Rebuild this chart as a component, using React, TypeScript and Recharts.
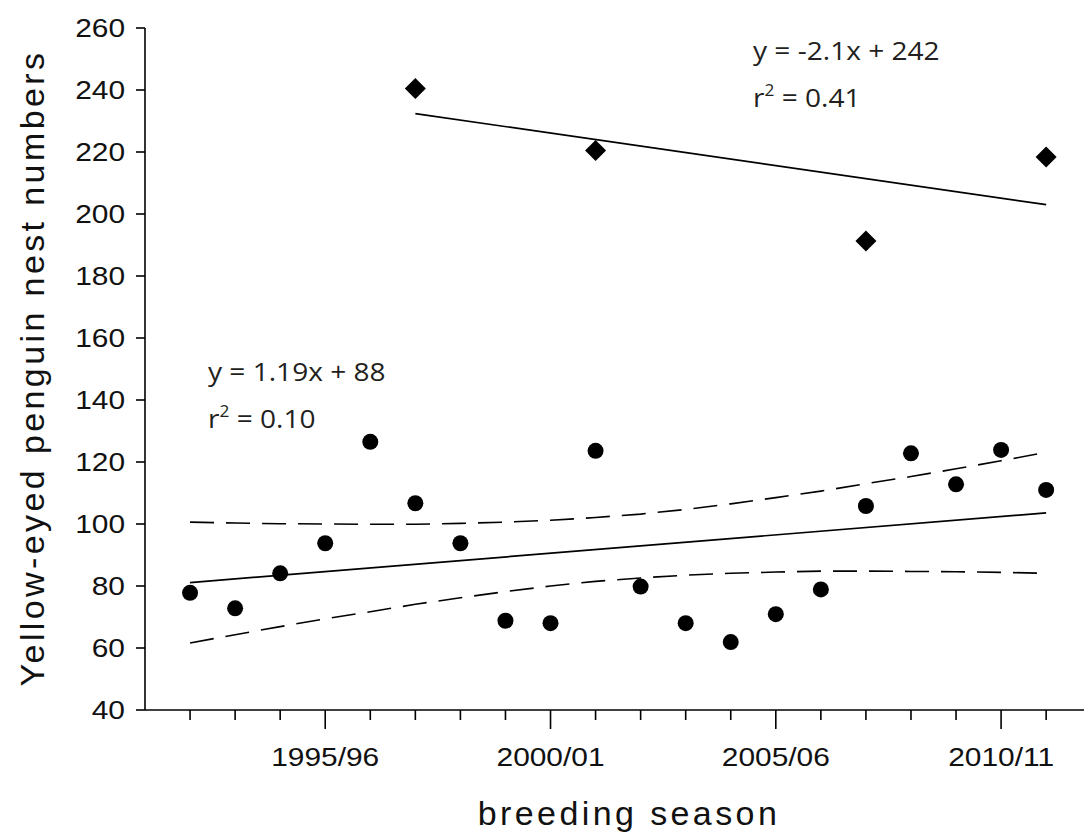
import React from 'react';
import { ComposedChart, Scatter, XAxis, YAxis, Customized } from 'recharts';

// breeding seasons (first year of the season)
const seasons = [1992, 1993, 1994, 1995, 1996, 1997, 1998, 1999, 2000, 2001, 2002, 2003, 2004, 2005, 2006, 2007, 2008, 2009, 2010, 2011];
const nestCounts = [77.8, 72.8, 84.1, 93.8, 126.5, 106.7, 93.8, 68.8, 68.0, 123.6, 79.8, 68.0, 61.9, 70.9, 78.9, 105.8, 122.8, 112.8, 123.9, 111.0];

// second colony, only counted in some seasons
const otherSeasons = [1997, 2001, 2007, 2011];
const otherCounts = [240.5, 220.5, 191.3, 218.4];

// fitted lines (end points)
const fitLowSeasons = [1992, 2011];
const fitLowValues = [81.1, 103.6];
const fitHighSeasons = [1997, 2011];
const fitHighValues = [232.4, 203.0];

// 95% confidence band around the lower fit
const bandUpper = [100.6, 100.3, 100.1, 100.0, 99.9, 99.9, 100.2, 100.6, 101.2, 102.1, 103.2, 104.7, 106.5, 108.5, 110.6, 113.0, 115.3, 117.8, 120.4, 123.1];
const bandLower = [61.6, 64.3, 66.9, 69.4, 71.7, 74.1, 76.2, 78.2, 80.0, 81.5, 82.6, 83.5, 84.1, 84.5, 84.8, 84.8, 84.7, 84.6, 84.4, 84.1];

const yTicks = [40, 60, 80, 100, 120, 140, 160, 180, 200, 220, 240, 260];
const labelledSeasons = [1995, 2000, 2005, 2010];
const seasonLabels = ['1995/96', '2000/01', '2005/06', '2010/11'];

const pts = (xs: number[], ys: number[]) => xs.map((x, i) => ({ x, y: ys[i] }));

const nestData = pts(seasons, nestCounts);
const otherData = pts(otherSeasons, otherCounts);
const fitLow = pts(fitLowSeasons, fitLowValues);
const fitHigh = pts(fitHighSeasons, fitHighValues);
const upperData = pts(seasons, bandUpper);
const lowerData = pts(seasons, bandLower);

const axisFont = '"Liberation Sans", Arial, sans-serif';
const eqFont = '"Open Sans", "Noto Sans", sans-serif';

const Dot = (p: any) => <circle cx={p.cx} cy={p.cy} r={8} fill="#000" />;
const Diamond = (p: any) => {
  const { cx, cy } = p;
  const s = 10.5;
  return <polygon points={`${cx},${cy - s} ${cx + s},${cy} ${cx},${cy + s} ${cx - s},${cy}`} fill="#000" />;
};
const NoShape = () => <g />;

const SeasonTick = (props: any) => {
  const { x, y, payload } = props;
  const idx = labelledSeasons.indexOf(payload.value);
  const major = idx >= 0;
  return (
    <g>
      <line x1={x} x2={x} y1={y} y2={y + (major ? 19 : 10)} stroke="#000" strokeWidth={1.6} />
      {major && (
        <text transform={`translate(${x},${y + 56}) scale(1.15,1)`} textAnchor="middle" fontSize={26} fontFamily={axisFont} fill="#111">
          {seasonLabels[idx]}
        </text>
      )}
    </g>
  );
};

const CountTick = (props: any) => {
  const { x, y, payload } = props;
  return (
    <text transform={`translate(${x},${y}) scale(1.15,1)`} textAnchor="end" dy="0.36em" fontSize={26} fontFamily={axisFont} fill="#111">
      {payload.value}
    </text>
  );
};

const Equation = ({ x, y, line1, r2 }: { x: number; y: number; line1: string; r2: string }) => (
  <g fontFamily={eqFont} fontSize={26} fill="#231f20">
    <text transform={`translate(${x},${y}) scale(1.08,1)`}>{line1}</text>
    <text transform={`translate(${x},${y + 47}) scale(1.08,1)`}>
      r<tspan dy={-11} fontSize={16}>2</tspan>
      <tspan dy={11}> = {r2}</tspan>
    </text>
  </g>
);

const Annotations = () => (
  <g>
    <text transform="translate(44,368) rotate(-90)" textAnchor="middle" fontSize={34} letterSpacing={3.4} fontFamily={axisFont} fill="#111">
      Yellow-eyed penguin nest numbers
    </text>
    <text x={629} y={825} textAnchor="middle" fontSize={34} letterSpacing={3.4} fontFamily={axisFont} fill="#111">
      breeding season
    </text>
    <Equation x={753} y={60} line1="y = -2.1x + 242" r2="0.41" />
    <Equation x={208} y={381} line1="y = 1.19x + 88" r2="0.10" />
  </g>
);

export default function App() {
  return (
    <div style={{ position: 'absolute', left: 0, top: 0, background: '#fff' }}>
      <ComposedChart width={1084} height={839} margin={{ top: 28, right: 0, bottom: 0, left: 0 }}>
        <XAxis
          type="number"
          dataKey="x"
          domain={[1991, 2011.84]}
          ticks={seasons}
          allowDataOverflow
          height={129}
          axisLine={{ stroke: '#000', strokeWidth: 1.6 }}
          tickLine={false}
          tickSize={0}
          tickMargin={0}
          tick={<SeasonTick />}
          interval={0}
        />
        <YAxis
          type="number"
          dataKey="y"
          domain={[40, 260]}
          ticks={yTicks}
          allowDataOverflow
          width={145}
          axisLine={{ stroke: '#000', strokeWidth: 1.6 }}
          tickLine={{ stroke: '#000', strokeWidth: 1.6 }}
          tickSize={9}
          tickMargin={11}
          tick={<CountTick />}
          interval={0}
        />
        <Scatter data={upperData} line={{ stroke: '#000', strokeWidth: 1.6, strokeDasharray: '24 12' }} shape={NoShape} isAnimationActive={false} />
        <Scatter data={lowerData} line={{ stroke: '#000', strokeWidth: 1.6, strokeDasharray: '24 12' }} shape={NoShape} isAnimationActive={false} />
        <Scatter data={fitLow} line={{ stroke: '#000', strokeWidth: 1.7 }} shape={NoShape} isAnimationActive={false} />
        <Scatter data={fitHigh} line={{ stroke: '#000', strokeWidth: 1.7 }} shape={NoShape} isAnimationActive={false} />
        <Scatter data={nestData} shape={Dot} isAnimationActive={false} />
        <Scatter data={otherData} shape={Diamond} isAnimationActive={false} />
        <Customized component={Annotations} />
      </ComposedChart>
    </div>
  );
}
